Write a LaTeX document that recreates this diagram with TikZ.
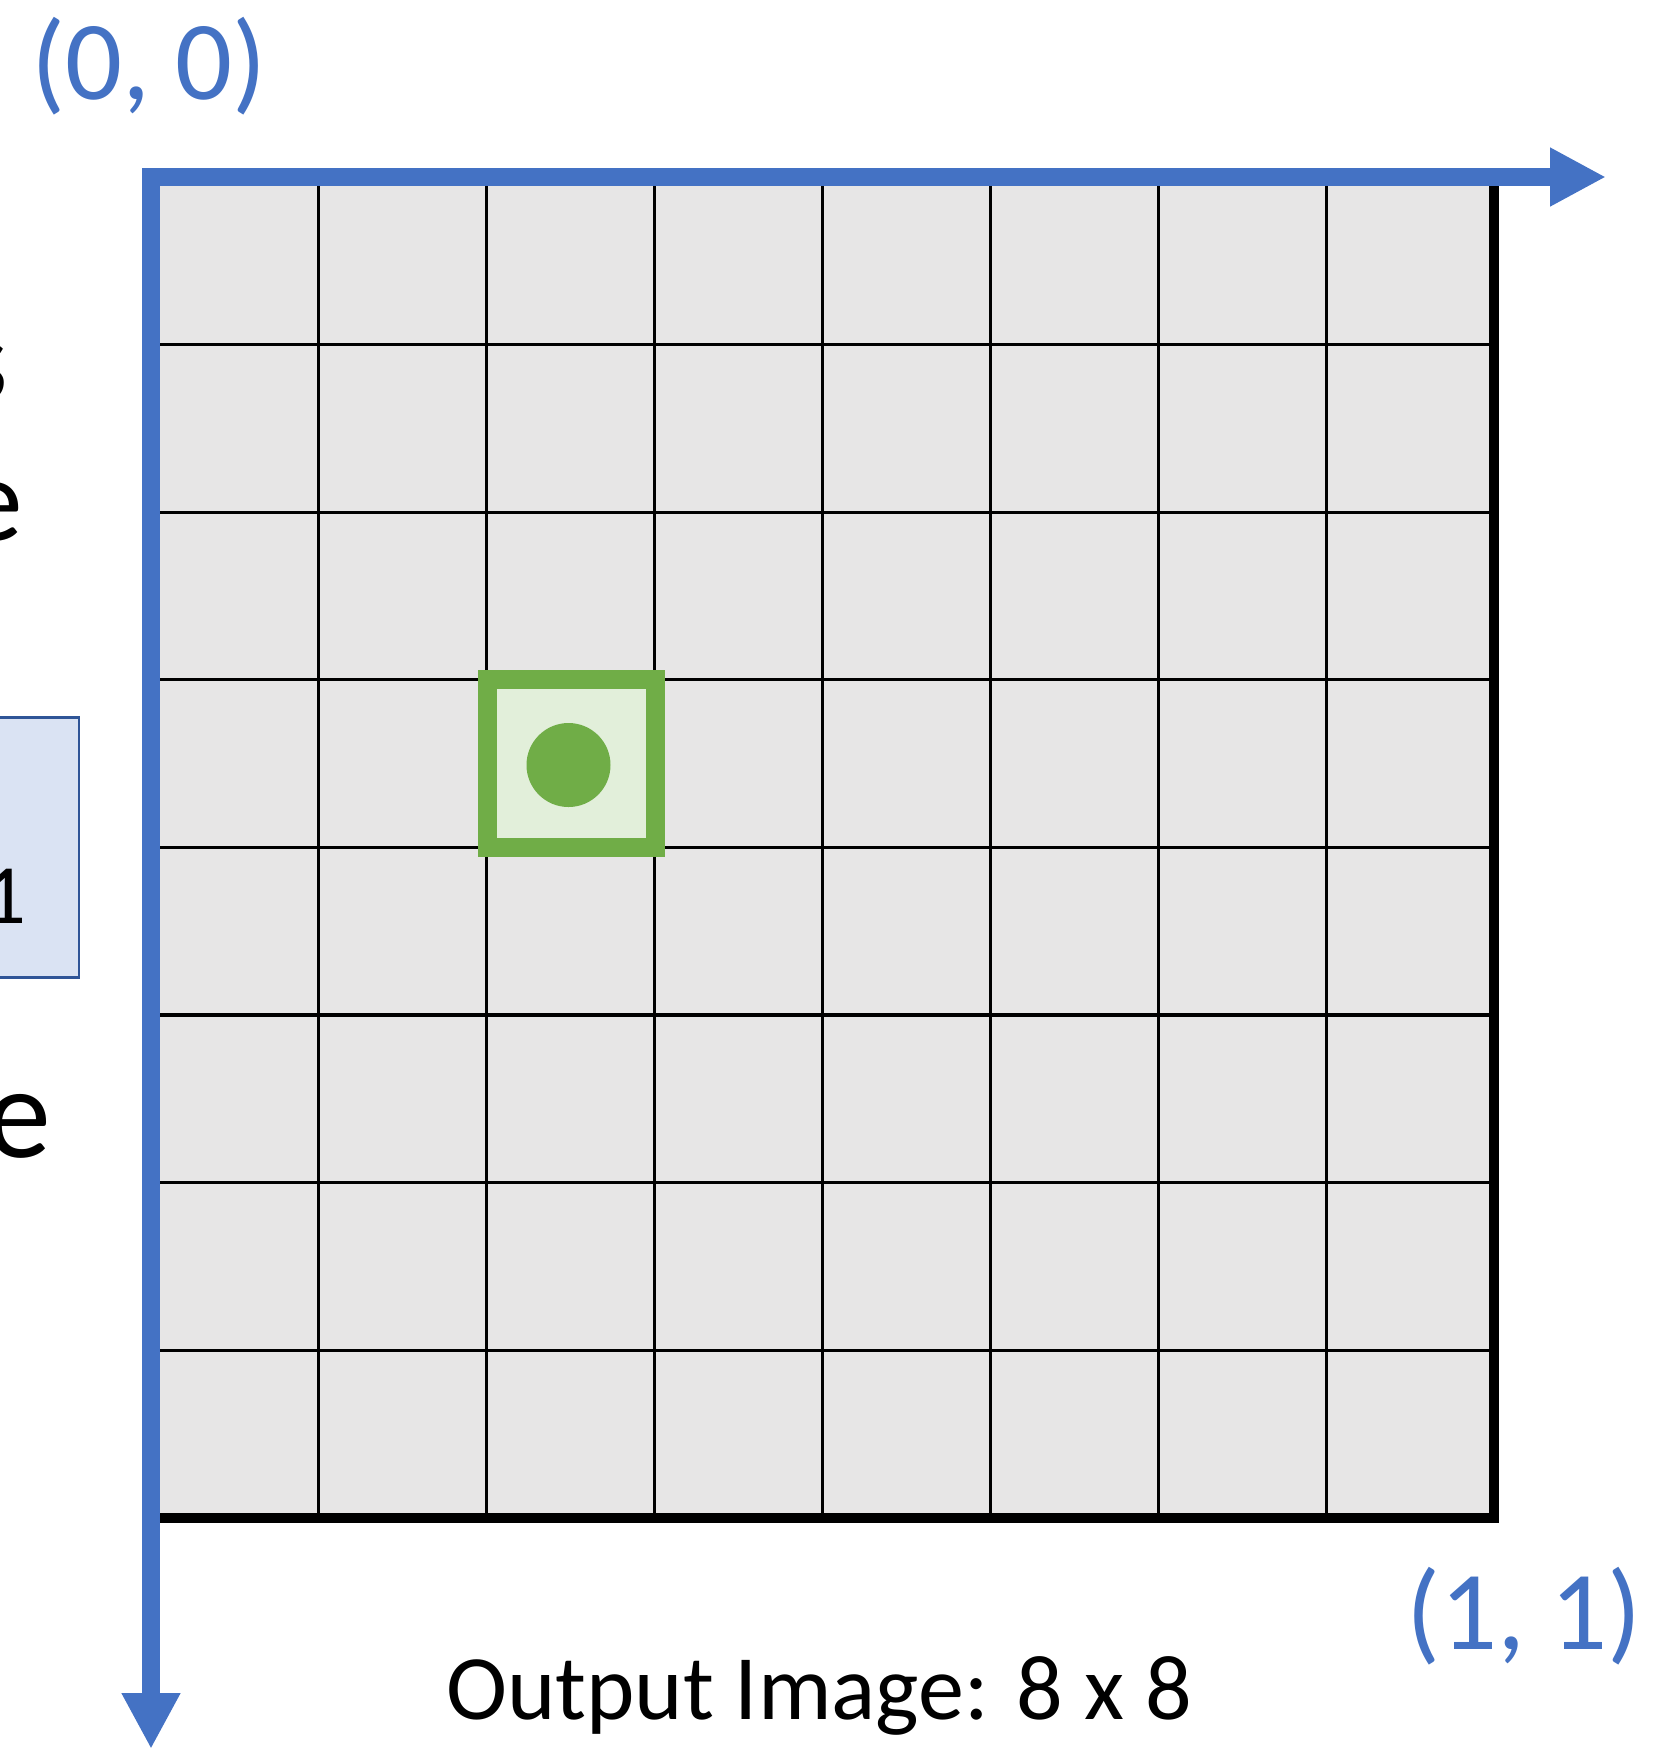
\documentclass[tikz,border=0pt]{standalone}
\usepackage{fontspec}
\setmainfont{Carlito}
\usetikzlibrary{arrows.meta}
\definecolor{axisblue}{HTML}{4472C4}
\definecolor{boxblue}{HTML}{2F5597}
\definecolor{boxfill}{HTML}{DAE3F3}
\definecolor{pixgray}{HTML}{E7E6E6}
\definecolor{pixgreen}{HTML}{70AD47}
\definecolor{pixlight}{HTML}{E2EFDA}
\tikzset{
  axisline/.style={draw=axisblue,line width=5.1pt,line join=miter,
    {Triangle[width=15.6pt,length=15.9pt]}-{Triangle[width=15.6pt,length=15.9pt]}},
  gridline/.style={draw=black,line width=0.9pt},
  pixbox/.style={fill=pixlight,draw=pixgreen,line width=5.4pt},
  coordlabel/.style={text=axisblue,inner sep=0pt,anchor=base,font=\fontsize{32}{38}\selectfont},
  cutlabel/.style={inner sep=0pt,anchor=base east}
}
\begin{document}
\begin{tikzpicture}[x=0.01cm,y=-0.01cm]
\clip (0,0) rectangle (1665,1753);

% pieces of the neighbouring picture, cut off at the left edge
\node[cutlabel,font=\fontsize{34}{41}\selectfont] (cuts) at (9,400) {s};
\node[cutlabel,font=\fontsize{34}{41}\selectfont] (cute) at (24,540) {e};
\draw[fill=boxfill,draw=boxblue,line width=0.85pt] (-40,717) rectangle (79,977);
\node[cutlabel,font=\fontsize{24}{29}\selectfont] (cutone) at (27,923) {1};
\node[cutlabel,font=\fontsize{37}{44}\selectfont] (cutlast) at (52,1157) {e};

% output image grid
\coordinate (origin) at (151,177);
\coordinate (corner) at (1494,1518);
\fill[pixgray] (origin) rectangle (corner);
\foreach \i in {1,...,7} {
  \draw[gridline] (151+\i*167.9,177) -- (151+\i*167.9,1518);
  \draw[gridline] (151,177+\i*167.6) -- (1494,177+\i*167.6);
}
\draw[line width=2.8pt,line join=miter] (1494,177) -- (corner) -- (151,1518);

% one output pixel
\draw[pixbox] (487.5,679.8) rectangle (655.5,847.4);
\fill[pixgreen] (568.5,765) circle (42);

% axes
\coordinate (xend) at (1606,177);
\coordinate (yend) at (151,1749);
\draw[axisline] (yend) -- (origin) -- (xend);

\node[coordlabel] (lblorigin) at (149,99) {(0, 0)};
\node[coordlabel] (lblend) at (1524,1649) {(1, 1)};
\node[inner sep=0pt,anchor=base,font=\fontsize{26.2}{32}\selectfont] (lbltitle) at (819,1719) {Output Image: 8 x 8};
\end{tikzpicture}
\end{document}
